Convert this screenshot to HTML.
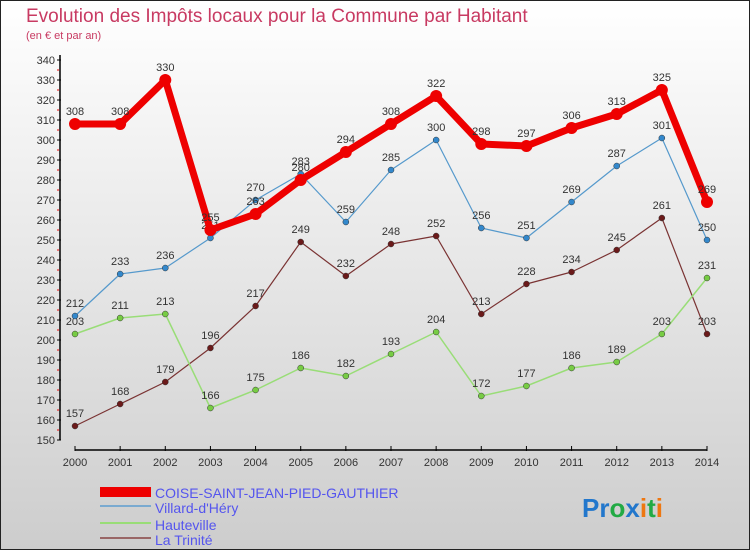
<!DOCTYPE html>
<html><head><meta charset="utf-8"><style>
body{margin:0;}
#c{width:750px;height:550px;position:relative;overflow:hidden;}
svg text{font-family:"Liberation Sans",sans-serif;}
</style></head><body>
<div id="c">
<svg id="s" width="750" height="550" xmlns="http://www.w3.org/2000/svg">
<defs><linearGradient id="bg" x1="0" y1="0" x2="0" y2="1"><stop offset="0" stop-color="#ffffff"/><stop offset="1" stop-color="#cdcdcd"/></linearGradient></defs>
<rect x="0.5" y="0.5" width="749" height="549" fill="url(#bg)" stroke="#222"/>
<text x="26" y="22" font-size="19" fill="#c83a62">Evolution des Impôts locaux pour la Commune par Habitant</text>
<text x="26" y="39" font-size="11" fill="#c83a62">(en € et par an)</text>
<g id="axes"></g><g id="series"></g>
<g>
<rect x="100" y="487" width="51" height="10" fill="#e00"/>
<text x="155" y="498" font-size="14" fill="#5555ee">COISE-SAINT-JEAN-PIED-GAUTHIER</text>
<rect x="100" y="505" width="51" height="2" fill="#7aaad0"/>
<text x="155" y="513" font-size="14" fill="#5555ee">Villard-d'Héry</text>
<rect x="100" y="522" width="51" height="2" fill="#99dd77"/>
<text x="155" y="530" font-size="14" fill="#5555ee">Hauteville</text>
<rect x="100" y="537" width="51" height="2" fill="#996666"/>
<text x="155" y="545" font-size="14" fill="#5555ee">La Trinité</text>
</g>
<text x="582" y="517" font-size="26" font-weight="bold"><tspan fill="#2277cc">Pr</tspan><tspan fill="#22aa44">o</tspan><tspan fill="#2277cc">x</tspan><tspan fill="#ee7711">i</tspan><tspan fill="#22aa44">t</tspan><tspan fill="#ee7711">i</tspan></text>
</svg></div>
<script>
const years=[2000,2001,2002,2003,2004,2005,2006,2007,2008,2009,2010,2011,2012,2013,2014];
const coise=[308,308,330,255,263,280,294,308,322,298,297,306,313,325,269];
const villard=[212,233,236,251,270,283,259,285,300,256,251,269,287,301,250];
const hauteville=[203,211,213,166,175,186,182,193,204,172,177,186,189,203,231];
const trinite=[157,168,179,196,217,249,232,248,252,213,228,234,245,261,203];
const yTicks=[150,160,170,180,190,200,210,220,230,240,250,260,270,280,290,300,310,320,330,340];
const NS="http://www.w3.org/2000/svg";
function X(i){return 75+i*(707-75)/(years.length-1);}
function Y(v){return 440-(v-150)*2;}
function mk(t,a,p){const e=document.createElementNS(NS,t);for(const k in a)e.setAttribute(k,a[k]);p.appendChild(e);return e;}
const ax=document.getElementById('axes');
const yl=mk('line',{x1:60,y1:55,x2:60,y2:440,stroke:'#000','stroke-width':1.5},ax);


yTicks.forEach(v=>{
 mk('line',{x1:57,y1:Y(v),x2:61,y2:Y(v),stroke:'#000'},ax);
 if(v>150) mk('line',{x1:57,y1:Y(v)+10,x2:59,y2:Y(v)+10,stroke:'#e00'},ax);
 const t=mk('text',{x:55,y:Y(v)+4,'font-size':11,fill:'#333','text-anchor':'end'},ax);t.textContent=v;
 
 
});
const xl=mk('line',{x1:75,y1:450,x2:707,y2:450,stroke:'#000','stroke-width':1.5},ax);


years.forEach((y,i)=>{
 mk('line',{x1:X(i),y1:446,x2:X(i),y2:451,stroke:'#000'},ax);
 const t=mk('text',{x:X(i),y:466,'font-size':11,fill:'#333','text-anchor':'middle'},ax);t.textContent=y;
 
 
});
const sg=document.getElementById('series');
function draw(vals,color,w,r,dot,name){
 const g=mk('g',{},sg);
 
 
 mk('polyline',{points:vals.map((v,i)=>X(i)+','+Y(v)).join(' '),fill:'none',stroke:color,'stroke-width':w,'stroke-linejoin':'round'},g);
 vals.forEach((v,i)=>{
  const c=mk('circle',{cx:X(i),cy:Y(v),r:r,fill:dot,stroke:'#333','stroke-width':r>4?0:0.5},g);
  
  
  const t=mk('text',{x:X(i),y:Y(v)-9,'font-size':11,fill:'#333','text-anchor':'middle'},g);t.textContent=v;
  
  
 });
}
draw(trinite,'#7a3333',1.2,3,'#6b1a1a','trinite');
draw(hauteville,'#99dd77',1.5,3,'#77cc44','hauteville');
draw(villard,'#5599cc',1.2,3,'#3388cc','villard');
draw(coise,'#ee0000',7,6,'#ee0000','coise');
</script>
</body></html>
